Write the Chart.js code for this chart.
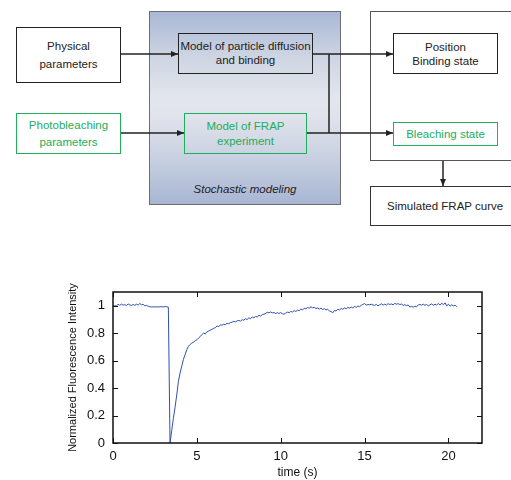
<!DOCTYPE html>
<html>
<head>
<meta charset="utf-8">
<script src="https://cdn.jsdelivr.net/npm/chart.js@4.4.1/dist/chart.umd.min.js"></script>
<style>
  html, body { margin: 0; padding: 0; background: #fff; }
  #root { position: relative; width: 511px; height: 480px; overflow: hidden; font-family: "Liberation Sans", Arial, sans-serif; }
  .box { position: absolute; box-sizing: border-box; display: flex; flex-direction: column; align-items: center; justify-content: center; text-align: center; font-size: 11.5px; color: #222; }
  .blk { border: 1.5px solid #222; background: #fff; }
  .grn { border: 1.5px solid #20ad5c; color: #22ad5e; background: #fff; }
  .trans { background: transparent; }
  #stoch { position: absolute; left: 149px; top: 11px; width: 192px; height: 194px; box-sizing: border-box; border: 1.5px solid #6e6e6e;
    background: linear-gradient(to bottom, #a9b8d6 0%, #ccd3e2 22%, #e3e6ed 45%, #e0e3eb 55%, #c6cee0 78%, #a8b6d4 100%); }
  #stochLabel { position: absolute; left: 149px; width: 192px; top: 183px; text-align: center; font-style: italic; font-size: 11.5px; color: #222; }
  #outer { position: absolute; left: 370px; top: 11px; width: 160px; height: 150px; box-sizing: border-box; border: 1.3px solid #555; }
  svg { position: absolute; left: 0; top: 0; }
  #chartWrap { position: absolute; left: 0; top: 240px; width: 511px; height: 240px; }
</style>
</head>
<body>
<div id="root">
  <div id="stoch"></div>
  <div id="stochLabel">Stochastic modeling</div>
  <div id="outer"></div>

  <div class="box blk" style="left:16px;top:27px;width:105px;height:56px;line-height:18px;">Physical<br>parameters</div>
  <div class="box grn" style="left:16px;top:113px;width:105px;height:41px;line-height:16.5px;">Photobleaching<br>parameters</div>
  <div class="box blk" style="left:178px;top:33px;width:135px;height:41px;line-height:13.5px;background:transparent;">Model of particle diffusion<br>and binding</div>
  <div class="box grn" style="left:184px;top:113px;width:123px;height:41px;line-height:14.5px;background:transparent;">Model of FRAP<br>experiment</div>
  <div class="box blk" style="left:393px;top:33px;width:105px;height:41px;line-height:14px;">Position<br>Binding state</div>
  <div class="box grn" style="left:393px;top:122px;width:105px;height:24px;">Bleaching state</div>
  <div class="box" style="left:370px;top:186px;width:160px;height:40px;border:1.3px solid #333;justify-content:center;align-items:flex-start;"><span style="margin-left:16px;">Simulated FRAP curve</span></div>

  <svg width="511" height="240" viewBox="0 0 511 240">
    <defs>
      <marker id="ah" markerWidth="8" markerHeight="8" refX="7" refY="4" orient="auto" markerUnits="userSpaceOnUse">
        <path d="M0,1 L7,4 L0,7 Z" fill="#222"/>
      </marker>
    </defs>
    <g stroke="#222" stroke-width="1.5" fill="none">
      <line x1="121" y1="54" x2="178" y2="54" marker-end="url(#ah)"/>
      <line x1="121" y1="133" x2="184" y2="133" marker-end="url(#ah)"/>
      <line x1="313" y1="54" x2="393" y2="54" marker-end="url(#ah)"/>
      <line x1="329" y1="54" x2="329" y2="133"/>
      <line x1="307" y1="133" x2="393" y2="133" marker-end="url(#ah)"/>
      <line x1="443" y1="161" x2="443" y2="186" marker-end="url(#ah)"/>
    </g>
  </svg>

  <div id="chartWrap"><canvas id="c" width="511" height="240"></canvas></div>
</div>
<script>
const timeS = [
  0.0,0.1,0.2,0.3,0.4,0.5,0.6,0.7,0.8,0.9,
  1.0,1.1,1.2,1.3,1.4,1.5,1.6,1.7,1.8,1.9,
  2.0,2.1,2.2,2.3,2.4,2.5,2.6,2.7,2.8,2.9,
  3.0,3.1,3.2,3.3,3.4,3.5,3.6,3.7,3.8,3.9,
  4.0,4.1,4.2,4.3,4.4,4.5,4.6,4.7,4.8,4.9,
  5.0,5.1,5.2,5.3,5.4,5.5,5.6,5.7,5.8,5.9,
  6.0,6.1,6.2,6.3,6.4,6.5,6.6,6.7,6.8,6.9,
  7.0,7.1,7.2,7.3,7.4,7.5,7.6,7.7,7.8,7.9,
  8.0,8.1,8.2,8.3,8.4,8.5,8.6,8.7,8.8,8.9,
  9.0,9.1,9.2,9.3,9.4,9.5,9.6,9.7,9.8,9.9,
  10.0,10.1,10.2,10.3,10.4,10.5,10.6,10.7,10.8,10.9,
  11.0,11.1,11.2,11.3,11.4,11.5,11.6,11.7,11.8,11.9,
  12.0,12.1,12.2,12.3,12.4,12.5,12.6,12.7,12.8,12.9,
  13.0,13.1,13.2,13.3,13.4,13.5,13.6,13.7,13.8,13.9,
  14.0,14.1,14.2,14.3,14.4,14.5,14.6,14.7,14.8,14.9,
  15.0,15.1,15.2,15.3,15.4,15.5,15.6,15.7,15.8,15.9,
  16.0,16.1,16.2,16.3,16.4,16.5,16.6,16.7,16.8,16.9,
  17.0,17.1,17.2,17.3,17.4,17.5,17.6,17.7,17.8,17.9,
  18.0,18.1,18.2,18.3,18.4,18.5,18.6,18.7,18.8,18.9,
  19.0,19.1,19.2,19.3,19.4,19.5,19.6,19.7,19.8,19.9,
  20.0,20.1,20.2,20.3,20.4,20.5
];
const intensity = [
  0.995,1.000,0.998,1.010,1.003,1.012,1.004,1.008,1.001,1.013,
  1.006,1.002,1.009,1.003,1.011,1.005,1.016,1.007,1.010,0.999,
  1.003,0.996,0.992,0.991,0.992,0.991,0.992,0.991,0.992,0.993,
  0.991,0.994,0.992,0.990,0.000,0.090,0.180,0.260,0.350,0.450,
  0.510,0.560,0.610,0.645,0.680,0.705,0.718,0.728,0.735,0.745,
  0.752,0.765,0.775,0.790,0.800,0.795,0.810,0.815,0.822,0.828,
  0.835,0.840,0.852,0.848,0.860,0.858,0.865,0.862,0.872,0.869,
  0.877,0.880,0.886,0.882,0.890,0.893,0.888,0.898,0.895,0.905,
  0.900,0.912,0.905,0.918,0.912,0.922,0.918,0.930,0.925,0.935,
  0.938,0.944,0.952,0.948,0.955,0.948,0.950,0.943,0.949,0.944,
  0.950,0.942,0.938,0.946,0.953,0.950,0.958,0.954,0.964,0.958,
  0.968,0.964,0.976,0.969,0.982,0.978,0.987,0.982,0.992,0.985,
  0.988,0.980,0.984,0.976,0.982,0.973,0.978,0.970,0.974,0.962,
  0.958,0.948,0.966,0.961,0.975,0.969,0.980,0.974,0.984,0.978,
  0.988,0.982,0.990,0.984,0.995,0.988,0.998,0.993,1.003,1.010,
  1.016,1.004,1.009,1.007,1.011,1.005,1.003,1.009,0.999,1.007,
  1.014,1.004,1.011,1.005,1.015,1.009,1.013,1.007,1.017,1.011,
  1.015,1.009,1.012,1.003,1.007,1.001,1.005,0.991,0.995,0.989,
  0.997,0.993,1.005,1.009,1.004,1.011,1.003,1.009,0.999,1.007,
  1.013,1.003,1.011,1.005,1.017,1.004,1.019,1.007,1.021,0.999,
  1.011,0.997,1.007,0.999,1.003,0.994
];
const xTickValues = [0, 5, 10, 15, 20];
const yTickValues = [0, 0.2, 0.4, 0.6, 0.8, 1];
const yTickLabels = ['0', '0.2', '0.4', '0.6', '0.8', '1'];

const framePlugin = {
  id: 'frame',
  afterDraw(chart) {
    const {ctx, chartArea: a, scales} = chart;
    ctx.save();
    ctx.strokeStyle = '#111';
    ctx.lineWidth = 1.5;
    ctx.strokeRect(a.left, a.top, a.right - a.left, a.bottom - a.top);
    ctx.lineWidth = 1;
    const tl = 5;
    ctx.beginPath();
    xTickValues.forEach(v => {
      const x = Math.round(scales.x.getPixelForValue(v)) + 0.5;
      ctx.moveTo(x, a.bottom); ctx.lineTo(x, a.bottom - tl);
      ctx.moveTo(x, a.top); ctx.lineTo(x, a.top + tl);
    });
    yTickValues.forEach(v => {
      const y = Math.round(scales.y.getPixelForValue(v)) + 0.5;
      ctx.moveTo(a.left, y); ctx.lineTo(a.left + tl, y);
      ctx.moveTo(a.right, y); ctx.lineTo(a.right - tl, y);
    });
    ctx.stroke();
    ctx.restore();
  }
};

new Chart(document.getElementById('c'), {
  type: 'line',
  data: {
    datasets: [{
      data: timeS.map((t, i) => ({x: t, y: intensity[i]})),
      borderColor: '#2f4fae',
      borderWidth: 1,
      pointRadius: 0,
      tension: 0,
      fill: false
    }]
  },
  options: {
    responsive: false,
    devicePixelRatio: 1,
    animation: false,
    events: [],
    layout: { padding: { left: 0, right: 29, top: 52, bottom: 0 } },
    plugins: { legend: { display: false }, tooltip: { enabled: false } },
    scales: {
      x: {
        type: 'linear', min: 0, max: 22,
        afterBuildTicks: s => { s.ticks = xTickValues.map(v => ({value: v})); },
        afterFit: s => { s.height = 37; },
        grid: { display: false, drawTicks: false },
        border: { display: false },
        ticks: { color: '#111', font: { family: 'Liberation Sans', size: 13 }, padding: 6, maxRotation: 0 },
        title: { display: true, text: 'time (s)', color: '#111', font: { family: 'Liberation Sans', size: 12 }, padding: { top: 0, bottom: 0 } }
      },
      y: {
        type: 'linear', min: 0, max: 1.1,
        afterBuildTicks: s => { s.ticks = yTickValues.map(v => ({value: v})); },
        afterFit: s => { s.width = 113; },
        grid: { display: false, drawTicks: false },
        border: { display: false },
        ticks: { color: '#111', font: { family: 'Liberation Sans', size: 13 }, padding: 8,
          callback: (v) => { const i = yTickValues.indexOf(v); return i >= 0 ? yTickLabels[i] : ''; } },
        title: { display: true, text: 'Normalized Fluorescence Intensity', color: '#111', font: { family: 'Liberation Sans', size: 11 }, padding: { top: 66, bottom: 0 } }
      }
    }
  },
  plugins: [framePlugin]
});
</script>
</body>
</html>
